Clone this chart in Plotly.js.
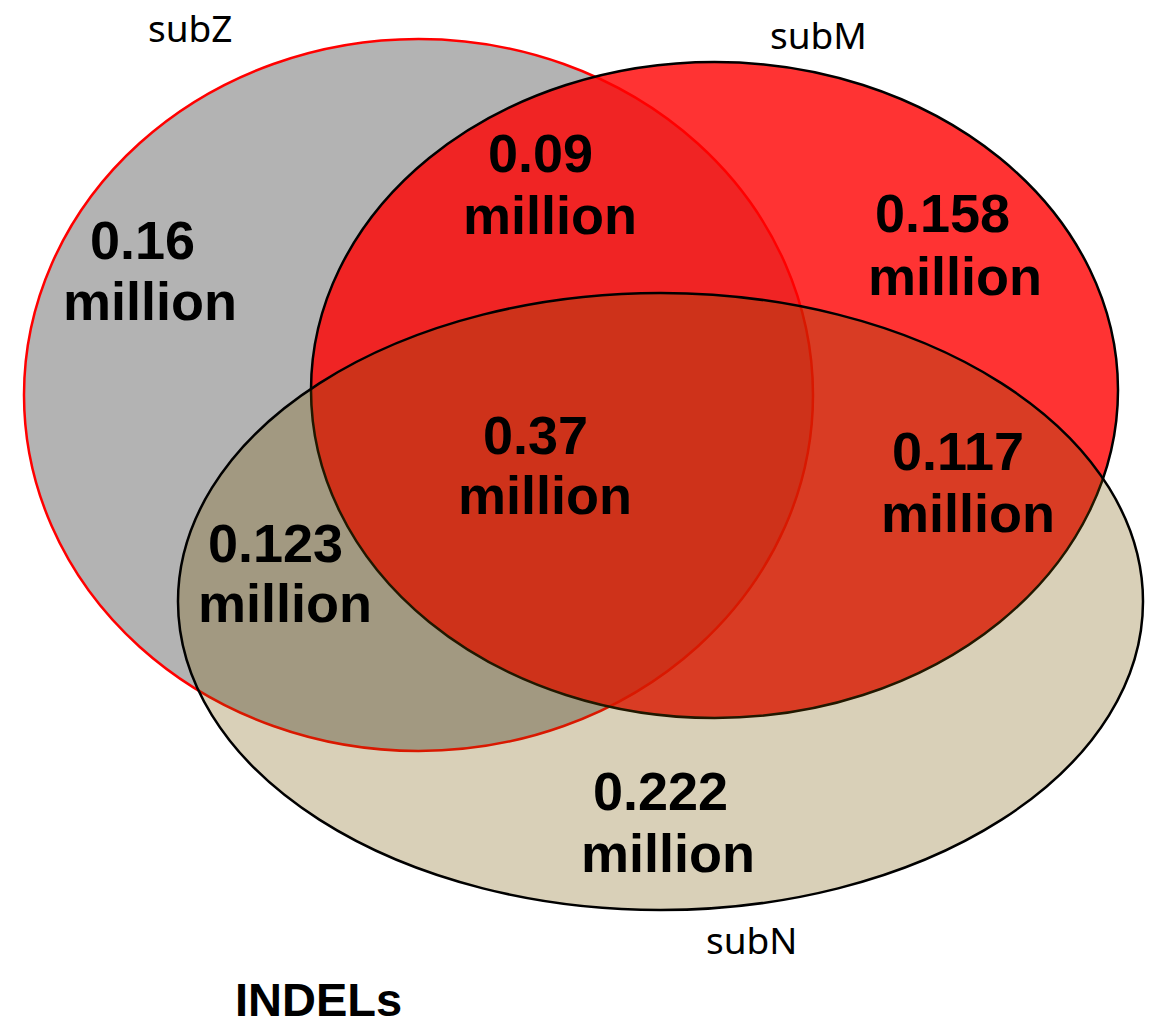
<!DOCTYPE html>
<html>
<head>
<meta charset="utf-8">
<script src="https://cdn.plot.ly/plotly-3.0.1.min.js"></script>
<style>html,body{margin:0;padding:0;background:#fff;}#chart{width:1150px;height:1026px;}</style>
</head>
<body>
<div id="chart"></div>
<script>
// Sets (drawing order: subZ, subM, subN)
const setNames = ["subZ", "subM", "subN"];
const setCenterX = [418.5, 714.5, 660.5];
const setCenterY = [395, 390, 601.5];
const setRadiusX = [394.5, 403.5, 482.5];
const setRadiusY = [356, 328, 308.5];
const setFill = ["rgb(179,179,179)", "rgba(255,0,0,0.8)", "rgba(119,87,0,0.28)"];
const setLine = ["rgb(255,0,0)", "rgb(0,0,0)", "rgb(0,0,0)"];
const setNameX = [190, 818, 751];
const setNameY = [27, 34, 939];

// Region values (millions)
const regionValues = ["0.16", "0.09", "0.158", "0.37", "0.117", "0.123", "0.222"];
const regionUnit = "million";
const valueX = [142, 540, 942, 535, 958, 275, 660];
const valueY = [240, 153, 213, 435, 451, 543, 791];
const unitX = [150, 550, 955, 545, 968, 285, 668];
const unitY = [301, 215, 276, 495, 513, 603, 853];

const chartTitle = "INDELs";

const shapes = setNames.map((n, i) => ({
  type: "circle", xref: "x", yref: "y", layer: "above",
  x0: setCenterX[i] - setRadiusX[i], x1: setCenterX[i] + setRadiusX[i],
  y0: setCenterY[i] - setRadiusY[i], y1: setCenterY[i] + setRadiusY[i],
  fillcolor: setFill[i],
  line: {color: setLine[i], width: 2.5}
}));

const annotations = [];
setNames.forEach((n, i) => annotations.push({
  x: setNameX[i], y: setNameY[i], xref: "x", yref: "y", text: n, showarrow: false,
  xanchor: "center", yanchor: "middle",
  font: {family: "Noto Sans, Open Sans, sans-serif", size: 37, color: "#000"}
}));
regionValues.forEach((v, i) => {
  annotations.push({
    x: valueX[i], y: valueY[i], xref: "x", yref: "y", text: "<b>" + v + "</b>", showarrow: false,
    xanchor: "center", yanchor: "middle",
    font: {family: "Liberation Sans, Arial, sans-serif", size: 54, color: "#000"}
  });
  annotations.push({
    x: unitX[i], y: unitY[i], xref: "x", yref: "y", text: "<b>" + regionUnit + "</b>", showarrow: false,
    xanchor: "center", yanchor: "middle",
    font: {family: "Liberation Sans, Arial, sans-serif", size: 54, color: "#000"}
  });
});
annotations.push({
  x: 318, y: 999, xref: "x", yref: "y", text: "<b>" + chartTitle + "</b>", showarrow: false,
  xanchor: "center", yanchor: "middle", borderpad: 0,
  font: {family: "Liberation Sans, Arial, sans-serif", size: 47, color: "#000"}
});

const layout = {
  width: 1150, height: 1026,
  margin: {l: 0, r: 0, t: 0, b: 0},
  paper_bgcolor: "#fff", plot_bgcolor: "#fff",
  showlegend: false,
  xaxis: {range: [0, 1150], visible: false, fixedrange: true},
  yaxis: {range: [1026, 0], visible: false, fixedrange: true},
  shapes: shapes,
  annotations: annotations
};

Plotly.newPlot("chart", [], layout, {staticPlot: true, displayModeBar: false});
</script>
</body>
</html>
